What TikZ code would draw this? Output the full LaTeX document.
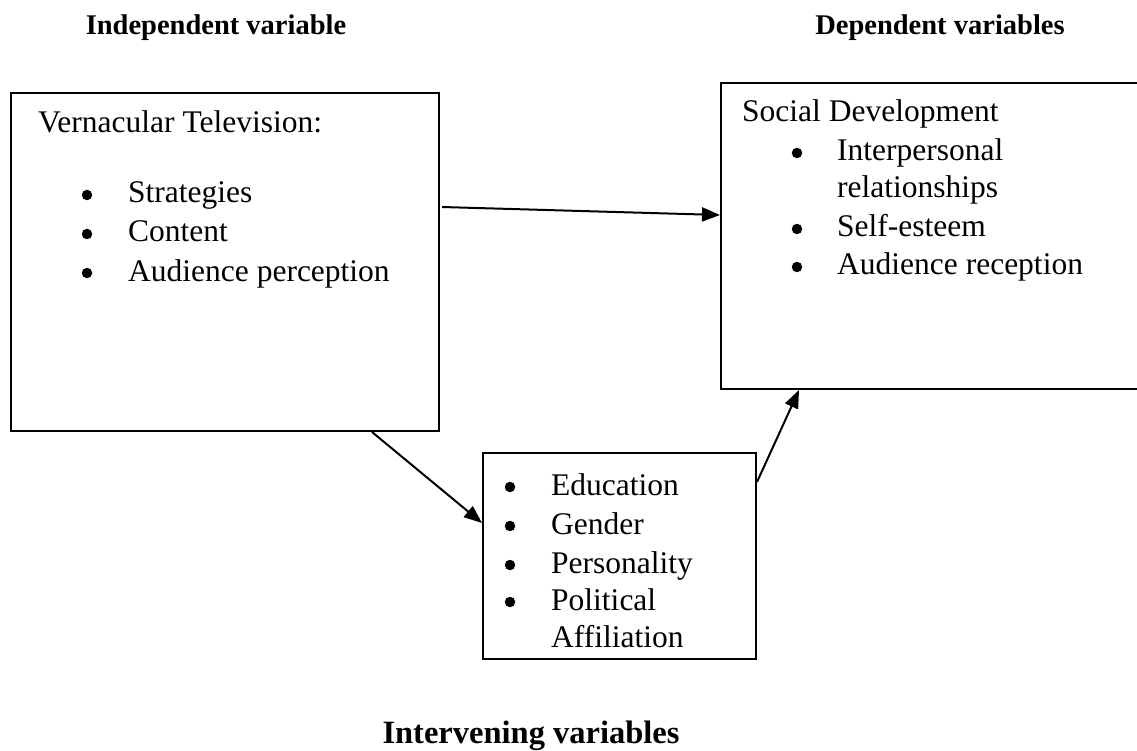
\documentclass[tikz,border=0pt]{standalone}
\usepackage{fontspec}
\setmainfont{Liberation Serif}
\usetikzlibrary{arrows.meta}
\begin{document}
\begin{tikzpicture}[x=1pt,y=-1pt,
  box/.style={draw,line width=2pt,inner sep=0pt,anchor=north west},
  txt/.style={font=\fontsize{31.5}{37}\selectfont,inner sep=0pt,anchor=base west},
  bul/.style={circle,fill,inner sep=0pt,minimum size=10.5pt},
  hdr/.style={font=\fontsize{28.5}{34}\selectfont\bfseries,inner sep=0pt,anchor=base},
  arr/.style={line width=2pt,-{Triangle[length=18pt,width=14pt]}}]
\useasboundingbox (0,0) rectangle (1137,751);
% headers
\node[hdr] (h1) at (216,35) {Independent variable};
\node[hdr] (h2) at (940,35) {Dependent variables};
\node[hdr,font=\fontsize{32.5}{38}\selectfont\bfseries] (h3) at (531,743) {Intervening variables};
% boxes
\node[box,minimum width=428pt,minimum height=338pt] (L) at (10,92) {};
\node[box,minimum width=424pt,minimum height=306pt] (R) at (720,82) {};
\node[box,minimum width=273pt,minimum height=206pt] (B) at (482,452) {};
% left box text
\node[txt] (l0) at (38,133) {Vernacular Television:};
\node[bul] (lb1) at (87,195) {};
\node[txt] (l1) at (128,203) {Strategies};
\node[bul] (lb2) at (87,234) {};
\node[txt] (l2) at (128,242) {Content};
\node[bul] (lb3) at (87,273) {};
\node[txt] (l3) at (128,281) {Audience perception};
% right box text
\node[txt] (r0) at (742,122) {Social Development};
\node[bul] (rb1) at (797,153) {};
\node[txt] (r1) at (837,161) {Interpersonal};
\node[txt] (r1b) at (837,198) {relationships};
\node[bul] (rb2) at (797,229) {};
\node[txt] (r2) at (837,237) {Self-esteem};
\node[bul] (rb3) at (797,267) {};
\node[txt] (r3) at (837,275) {Audience reception};
% bottom box text
\node[bul] (bb1) at (510,487) {};
\node[txt] (b1) at (551,495) {Education};
\node[bul] (bb2) at (510,526) {};
\node[txt] (b2) at (551,534) {Gender};
\node[bul] (bb3) at (510,565) {};
\node[txt] (b3) at (551,573) {Personality};
\node[bul] (bb4) at (510,602) {};
\node[txt] (b4) at (551,610) {Political};
\node[txt] (b4b) at (551,647) {Affiliation};
% arrows
\draw[arr] ([xshift=2pt,yshift=-115pt]L.north east) -- ([yshift=-133pt]R.north west);
\draw[arr] ([xshift=362pt]L.south west) -- ([yshift=-71pt]B.north west);
\draw[arr] ([yshift=-30pt]B.north east) -- ([xshift=79pt]R.south west);
\end{tikzpicture}
\end{document}
